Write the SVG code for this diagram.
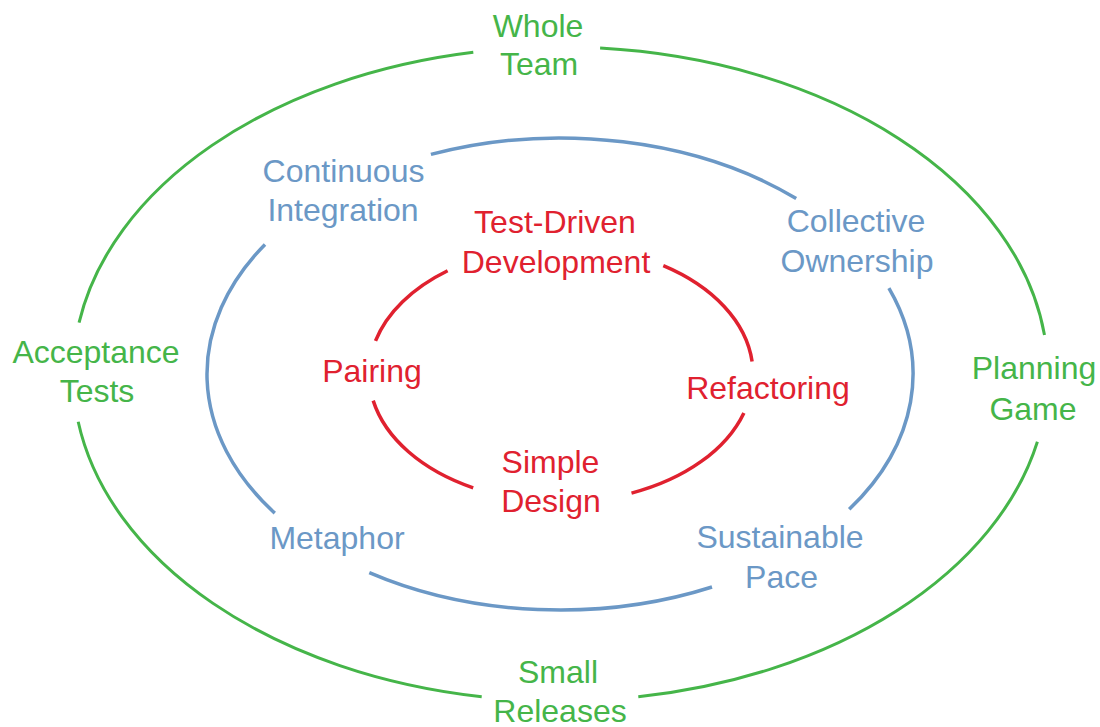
<svg xmlns="http://www.w3.org/2000/svg" width="1100" height="727" viewBox="0 0 1100 727">
<style>
  text { font-family: "Liberation Sans", Arial, sans-serif; font-size: 32px; text-anchor: middle; }
  .g { fill: #45b549; }
  .b { fill: #6b98c6; }
  .r { fill: #e0212f; }
  .arc { fill: none; stroke-linecap: butt; }
  .ga { stroke: #45b549; stroke-width: 3; }
  .ba { stroke: #6b98c6; stroke-width: 3.5; }
  .ra { stroke: #e0212f; stroke-width: 3.5; }
</style>
<rect width="1100" height="727" fill="#ffffff"/>
<g id="connectors">
  <!-- green outer ellipse arcs: cx 560.5 cy 374 rx 487.5 ry 327 -->
  <path class="arc ga" d="M600.1,48.1 A487.5,327 0 0 1 1044.5,335"/>
  <path class="arc ga" d="M1037.4,441.7 A487.5,327 0 0 1 638.3,696.8"/>
  <path class="arc ga" d="M481.7,696.7 A487.5,327 0 0 1 78.2,421.7"/>
  <path class="arc ga" d="M79.05,322.7 A487.5,327 0 0 1 473.3,52.3"/>
  <!-- blue middle ellipse arcs: cx 560 cy 374 rx 353 ry 236 -->
  <path class="arc ba" d="M430.9,154.4 A353,236 0 0 1 796.2,198.6"/>
  <path class="arc ba" d="M888.9,288.2 A353,236 0 0 1 849.2,509.3"/>
  <path class="arc ba" d="M712.0,587.0 A353,236 0 0 1 369.3,572.6"/>
  <path class="arc ba" d="M274.8,513.1 A353,236 0 0 1 265.0,244.4"/>
  <!-- red inner ellipse arcs: cx 561 cy 374 rx 192 ry 128 -->
  <path class="arc ra" d="M663.3,265.7 A192,128 0 0 1 752.1,361.6"/>
  <path class="arc ra" d="M743.9,412.9 A192,128 0 0 1 631.5,493.1"/>
  <path class="arc ra" d="M473.2,487.8 A192,128 0 0 1 373.2,400.6"/>
  <path class="arc ra" d="M375.5,340.9 A192,128 0 0 1 447.6,270.7"/>
</g>
<g id="whole-team"><text class="g" x="538" y="37">Whole</text><text class="g" x="539" y="75">Team</text></g>
<g id="acceptance-tests"><text class="g" x="96" y="363">Acceptance</text><text class="g" x="97" y="402">Tests</text></g>
<g id="planning-game"><text class="g" x="1034" y="379">Planning</text><text class="g" x="1033" y="420">Game</text></g>
<g id="small-releases"><text class="g" x="558" y="683">Small</text><text class="g" x="560" y="722">Releases</text></g>
<g id="continuous-integration"><text class="b" x="343.5" y="182">Continuous</text><text class="b" x="343" y="221">Integration</text></g>
<g id="collective-ownership"><text class="b" x="856" y="232">Collective</text><text class="b" x="857" y="272">Ownership</text></g>
<g id="metaphor"><text class="b" x="337" y="549">Metaphor</text></g>
<g id="sustainable-pace"><text class="b" x="780" y="548">Sustainable</text><text class="b" x="781.5" y="588">Pace</text></g>
<g id="test-driven-development"><text class="r" x="555" y="233">Test-Driven</text><text class="r" x="556" y="273">Development</text></g>
<g id="pairing"><text class="r" x="372" y="382">Pairing</text></g>
<g id="refactoring"><text class="r" x="768" y="399">Refactoring</text></g>
<g id="simple-design"><text class="r" x="550.5" y="473">Simple</text><text class="r" x="551" y="512">Design</text></g>
</svg>
